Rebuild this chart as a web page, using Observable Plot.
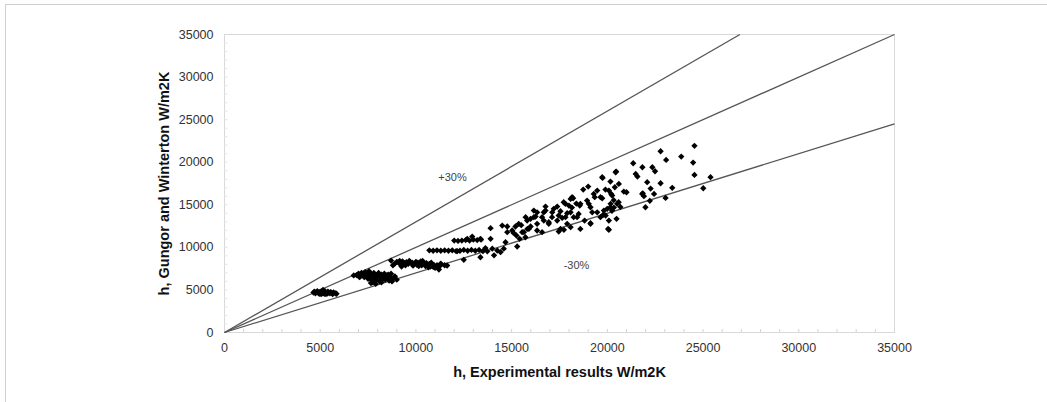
<!DOCTYPE html>
<html><head><meta charset="utf-8">
<script src="https://cdn.jsdelivr.net/npm/d3@7"></script>
<script src="https://cdn.jsdelivr.net/npm/@observablehq/plot@0.6"></script>
<style>
body{margin:0;background:#fff;overflow:hidden;}
#frame{position:absolute;left:5px;top:4px;width:1100px;height:600px;border-left:1px solid #cfcfcf;border-top:1px solid #cfcfcf;}
#chart{position:absolute;left:0;top:0;}
</style></head><body><div id="frame"></div><div id="chart"></div>
<script>
// Axis ticks
const axisTicks = [0, 5000, 10000, 15000, 20000, 25000, 30000, 35000];
const minorTicks = d3.range(1000, 35000, 1000);

// Reference lines: +30%, 0%, -30% (start and end points)
const lineX1 = [0, 0, 0];
const lineY1 = [0, 0, 0];
const lineX2 = [26923, 35000, 35000];
const lineY2 = [35000, 35000, 24500];

// Band labels
const labelText = ["+30%", "-30%"];
const labelX = [11910, 18390];
const labelY = [18200, 7870];

// Points: [experimental h, Gungor & Winterton h]
const points = [
  // cluster ~5000
  [4650,4700],[4750,4600],[4800,4750],[4850,4850],[4900,4650],[4950,4550],[5000,4800],[5050,4700],[5100,4900],[5150,4600],
  [5200,4750],[5250,4850],[5300,4650],[5350,4550],[5400,4800],[5450,4700],[5500,4600],[5550,4750],[5600,4650],[5650,4500],
  [5700,4700],[5800,4600],[5850,4550],[5050,4500],[5250,4500],[4700,4800],[5150,5000],
  // cluster ~7500
  [6750,6700],[6900,6750],[7000,6900],[7100,6600],[7150,7000],[7200,6800],[7300,6500],[7350,7100],[7400,6700],[7450,6900],
  [7500,6300],[7550,7200],[7600,6600],[7650,6900],[7700,6100],[7700,6700],[7750,5900],[7800,7000],[7850,6400],[7900,6800],
  [7950,6200],[8000,6600],[8050,7000],[8100,6000],[8150,6500],[8200,6800],[8250,6300],[8300,6600],[8350,6900],[8400,6200],
  [8450,6700],[8500,6400],[8550,6800],[8600,6100],[8650,6500],[8700,6900],[8800,6300],[8900,6600],[9000,6200],[7650,5800],
  [7900,5700],[8200,5900],[7500,6700],[7300,6800],[7050,6500],[8750,6000],
  // cluster ~10000
  [8700,8450],[8900,8100],[9000,8300],[9100,8200],[9200,8000],[9300,8350],[9400,8150],[9500,8250],[9600,8050],[9700,8300],
  [9800,8200],[9900,8100],[10000,8300],[10050,7950],[10100,8200],[10200,8100],[10250,8350],[10300,7900],[10400,8200],[10450,8000],
  [10500,7800],[10550,8150],[10600,7900],[10700,8050],[10750,7750],[10800,8200],[10900,7700],[10950,7900],[11000,7600],[11100,7900],
  [11200,7400],[11250,7800],[9150,8400],[9450,7900],[9650,8400],[9850,7850],[10150,7800],[10350,8400],[10650,7650],[11300,8100],
  [8800,7900],[9250,7750],[11500,7900],
  // rows ~12000
  [10700,9650],[10900,9600],[11100,9650],[11300,9600],[11500,9650],[11700,9600],[11900,9650],[12100,9550],[12300,9600],[12500,9700],
  [12700,9600],[12900,9700],[13100,9600],[13300,9700],[13500,9550],
  [12000,10800],[12200,10750],[12400,10800],[12600,10850],[12800,10800],[13000,10900],[13200,10850],[13400,10900],
  [11630,7870],[12500,8530],[13370,8840],[12160,9550],[13630,9920],[13730,9530],[13990,9840],[14080,9060],[14250,9630],[14420,9440],
  [14590,9840],[13900,11000],[13370,11000],[12940,11270],[12680,11000],[14680,10600],[13900,12250],[14510,12560],[14770,12450],[15290,10100],
  [14770,11780],[15030,11980],
  // 15000-17000
  [15370,12760],[15200,12450],[15550,11780],[15250,11390],[15420,11000],[15820,12170],[15990,12450],[16330,11980],[16590,11780],[15990,13350],
  [15730,13540],[16250,13620],[16330,14120],[16680,13150],[16940,12760],[16770,14790],[16770,14320],[17120,14120],[16160,14320],[16160,13540],
  [15810,13150],[16330,12760],[15900,12170],[15640,11780],[15720,11190],[16590,13540],[16680,14120],[16940,12960],[15500,12600],[15100,11700],
  // 17000-19000
  [17380,14790],[17550,14240],[17900,14010],[17640,13460],[18420,13540],[18810,13150],[19120,12840],[18080,12370],[17730,12060],[17460,11860],
  [17810,15110],[18080,15690],[18150,14670],[18380,15140],[18560,14910],[18210,15770],[18940,15500],[18740,16790],[19000,17140],[17990,14910],
  [17720,15300],[17200,14520],[18080,14120],[17810,13540],[18240,13540],[18500,13930],[17460,13740],[17110,13540],[17380,13150],[17900,12760],
  [17550,12170],[18590,12170],[19120,12760],[18590,15110],[18160,15890],
  // 19000-20000
  [19340,15890],[19730,15770],[19470,16670],[19900,16790],[19750,18160],[19470,14120],[19120,14710],[19780,13820],[19990,14520],[19210,14120],
  [19820,14320],[19910,13740],[19640,13540],[19290,16280],[19640,15890],[19030,15110],[20040,12170],[19730,18240],
  // 20000-21000
  [20160,17730],[20600,17450],[20390,17060],[21000,16470],[20250,16090],[20510,15110],[20680,14750],[20240,14290],[20480,13350],[20460,18900],
  [20080,16670],[20330,15540],[20160,14710],[20080,13150],[20080,12060],[20430,18820],[20860,16550],[20200,16280],[20590,15300],[20170,15110],
  [20340,14670],
  // 21000-25500
  [24550,21920],[22780,21290],[23860,20660],[23070,20270],[24480,19960],[21350,19880],[21830,19410],[22350,19410],[22490,18940],[21480,18630],
  [21570,18320],[24550,18510],[25390,18240],[22080,17650],[22780,17530],[23390,16990],[25010,16940],[22260,16900],[21820,16280],[21910,16010],
  [22440,16280],[23040,15810],[22220,15460],[21990,14710],[21850,16350]
];

const diamond = {
  draw(context, size) {
    const h = Math.sqrt(size / Math.PI) * 1.05;
    context.moveTo(0, -h);
    context.lineTo(h, 0);
    context.lineTo(0, h);
    context.lineTo(-h, 0);
    context.closePath();
  }
};

const lines = lineX1.map((d, i) => ({x1: d, y1: lineY1[i], x2: lineX2[i], y2: lineY2[i]}));
const labels = labelText.map((t, i) => ({t, x: labelX[i], y: labelY[i]}));

const chart = Plot.plot({
  width: 1047,
  height: 402,
  marginLeft: 224,
  marginRight: 153,
  marginTop: 34,
  marginBottom: 70,
  style: {background: "transparent", fontFamily: "Liberation Sans, Arial, sans-serif", fontSize: "12px", color: "#333"},
  x: {domain: [0, 35000], ticks: axisTicks, tickFormat: d3.format("d"), tickSize: 0, tickPadding: 11,
      label: "h, Experimental results W/m2K", labelAnchor: "center", labelOffset: 44, labelArrow: "none"},
  y: {domain: [0, 35000], ticks: axisTicks, tickFormat: d3.format("d"), tickSize: 0, tickPadding: 11,
      label: "h, Gungor and Winterton W/m2K", labelAnchor: "center", labelOffset: 66, labelArrow: "none"},
  marks: [
    Plot.frame({stroke: "#d9d9d9"}),
    Plot.ruleX(minorTicks, {y1: 0, y2: 350, stroke: "#d4d4d4"}),
    Plot.ruleY(minorTicks, {x1: 0, x2: 180, stroke: "#e4e4e4"}),
    Plot.link(lines, {x1: "x1", y1: "y1", x2: "x2", y2: "y2", stroke: "#555", strokeWidth: 1.3}),
    Plot.dot(points, {x: d => d[0], y: d => d[1], symbol: diamond, r: 3, fill: "#000", stroke: "none"}),
    Plot.text(labels, {x: "x", y: "y", text: "t", fontSize: 11, fill: "#444"})
  ]
});
// tick labels: larger, dark grey
chart.querySelectorAll('g[aria-label$="tick label"]').forEach(g => {
  g.setAttribute("font-size", "12.5px");
  g.querySelectorAll("text").forEach(t => { t.setAttribute("font-size", "12.5px"); t.setAttribute("fill", "#333"); });
});
// axis titles: bold, no arrows
chart.querySelectorAll('g[aria-label$="axis label"]').forEach(g => {
  g.setAttribute("font-size", "14.5px");
  g.setAttribute("font-weight", "bold");
  g.querySelectorAll("text").forEach(t => {
    t.textContent = t.textContent.replace(/\s*[→↑←↓]\s*/g, "");
    t.setAttribute("font-size", "14.5px");
    t.setAttribute("font-weight", "bold");
    t.setAttribute("fill", "#111");
  });
});
document.getElementById("chart").appendChild(chart);
</script></body></html>
